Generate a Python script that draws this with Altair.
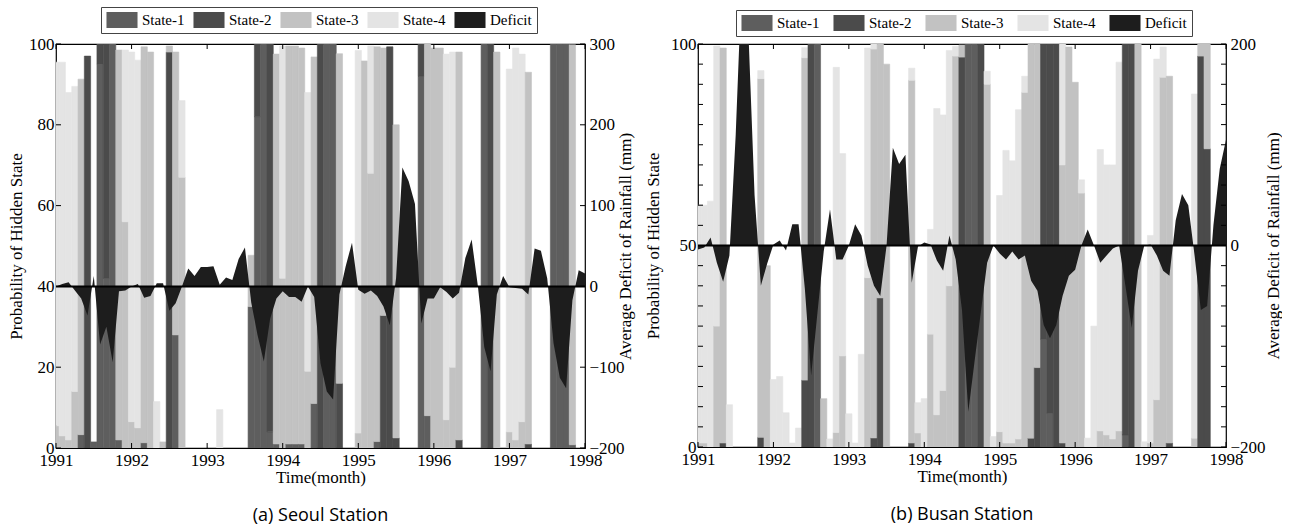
import altair as alt
import pandas as pd

SERIF = "Liberation Serif"
SANS = "Open Sans"

YEARS = [1991, 1992, 1993, 1994, 1995, 1996, 1997, 1998]
STATES = ["State-1", "State-2", "State-3", "State-4", "Deficit"]
COLORS = ["#5e5e5e", "#4b4b4b", "#c2c2c2", "#e4e4e4", "#1d1d1d"]

# ---------------- Seoul (monthly bars, Jan 1991 .. Dec 1997) ----------------
seoul_s1 = [0, 0, 0, 0, 3.3, 0, 1.5, 95, 42, 100, 2, 0,
            0, 0, 1.3, 0, 0, 0, 0, 28, 0, 0, 0, 0,
            0, 0, 0, 0, 0, 0, 0, 35, 82, 100, 4, 1,
            0, 1, 1, 1, 0, 11, 0, 100, 100, 0, 0, 0,
            0, 0, 0, 1.6, 0, 0, 0, 0, 0, 0, 92, 8,
            0, 0, 0, 0, 0, 0, 0, 0, 100, 0, 0, 0,
            0, 0, 0, 0, 0, 0, 0, 100, 100, 100, 0.8, 0]
seoul_s2 = [0, 0, 0, 0, 0, 97, 0, 5, 58, 0, 0, 0,
            0, 0, 0, 0, 0, 0, 98, 0, 0, 0, 0, 0,
            0, 0, 0, 0, 0, 0, 0, 0, 18, 0, 96, 0,
            0, 0, 0, 0, 0, 0, 100, 0, 0, 16, 0, 0,
            0, 0, 0, 0, 32.8, 99.3, 2.5, 0, 0, 0, 8, 0,
            0, 0, 0, 0, 2, 0, 0, 0, 0, 100, 0, 0,
            0, 0, 0, 1, 0, 0, 0, 0, 0, 0, 0, 0]
seoul_s3 = [5.5, 3, 2, 14, 88, 0, 0, 0, 0, 0, 96.5, 56,
            6.5, 5, 98, 98, 0, 1.5, 1.5, 70, 67, 0, 0, 0,
            0, 0, 0, 0, 0, 0, 0, 12.7, 0, 0, 0, 96.5,
            42, 98.5, 98.5, 98, 19, 85.8, 0, 0, 0, 81.6, 0, 0,
            3.7, 95.8, 68, 97.7, 66.2, 0, 77.5, 0, 0, 0, 0, 92,
            99, 99, 7, 20, 96, 0, 0, 0, 0, 0, 98, 0,
            4, 2, 6.5, 92, 0, 0, 0, 0, 0, 0, 99, 0]
seoul_s4 = [90, 92.5, 86, 75.5, 0, 0, 0, 0, 0, 0, 0, 42.5,
            91.5, 91, 0, 0, 11.5, 0, 0, 0, 19, 0, 0, 0,
            0, 0, 9.5, 0, 0, 0, 0, 0, 0, 0, 0, 0,
            57.5, 0, 0, 0, 69, 0, 0, 0, 0, 0, 0, 0,
            94.7, 0, 31.5, 0, 0, 0, 0, 0, 0, 0, 0, 0,
            0, 0, 90.5, 78, 0, 0, 0, 0, 0, 0, 0, 0,
            89.8, 97, 91, 0, 0, 0, 0, 0, 0, 0, 0, 0]
seoul_deficit = [0, 3, 5, -5, -15, -36, 13, -72, -50, -94, -6, -5,
                 0, 3, -14, -12, 4, 4, -30, -21, 0, 22, 13, 24,
                 24, 25, 2, 11, 8, 34, 48, -20, -60, -93, -40, -15,
                 -6, -13, -13, -19, 0, -13, -95, -130, -140, -10, 25, 54,
                 -4, -9, -5, -12, -25, -48, 10, 147, 130, 102, -46, -15,
                 -15, -1, -7, -15, -8, 35, 58, 0, -75, -105, -10, 13,
                 -1, -2, -3, -10, 47, 44, 10, -70, -113, -126, -17, 20, 16]

# ---------------- Busan ----------------
busan_s1 = [0, 0, 0, 0, 0, 0, 0, 0, 0, 0, 0, 0,
            0, 0, 0, 0, 0, 0, 0, 100, 0, 0, 0, 0,
            0, 0, 0, 0, 0, 0, 0, 0, 0, 0, 0, 0,
            0, 0, 0, 0, 0, 0, 0, 100, 100, 0, 0, 0,
            0, 0, 0, 0, 0, 0, 0, 26.75, 8.4, 0, 0, 0,
            0, 0, 0, 0, 0, 0, 0, 0, 3, 0, 0, 0,
            0, 0, 0, 0, 0, 0, 0, 0, 0, 0, 0, 0]
busan_s2 = [0, 0, 0, 0, 1, 0, 0, 0, 0, 0, 2.4, 0,
            0, 0, 0, 0, 0, 16.6, 100, 0, 0, 0, 0, 0,
            0, 0, 0, 0, 2.25, 37, 0, 0, 0, 0, 1, 0,
            0, 0, 0, 0, 0, 0, 96.75, 0, 0, 100, 0, 0,
            0, 0, 0, 0, 0, 2.2, 19.7, 73.25, 91.6, 100, 1, 0,
            0, 0, 0, 0, 0, 0, 0, 0, 97, 100, 0, 0,
            0, 0, 0, 1, 0, 0, 0, 0, 97, 74, 0, 0]
busan_s3 = [1, 1, 0, 30, 98, 0, 0, 0, 0, 0, 89, 45,
            0, 0, 0, 0, 0, 80, 0, 0, 12, 0, 3.6, 22.6,
            0, 0, 0, 42, 96.5, 63, 95, 0, 0, 0, 90, 3.5,
            0, 28, 8, 14, 40, 97, 3, 0, 0, 0, 90, 0,
            3.8, 1, 1, 2, 88, 97.8, 80.3, 0, 0, 0, 69, 99.25,
            90.5, 63, 0, 0, 4, 3, 2, 4, 0, 0, 100, 0,
            1, 11.75, 91.75, 91, 0, 0, 0, 2.2, 3, 26, 0, 0]
busan_s4 = [59, 59, 61, 69.5, 0, 10.5, 0, 0, 0, 0, 2, 0,
            16.75, 17.5, 8.5, 1, 4.7, 2.5, 0, 0, 0, 2, 90.6, 50.2,
            8.25, 1, 23, 57, 1.25, 0, 0, 0, 0, 0, 3, 7.5,
            12, 26, 76, 68.4, 58.4, 2.4, 0, 0, 0, 0, 3.25, 2.6,
            58.6, 72.6, 70, 81.7, 4, 0, 0, 0, 0, 0, 30, 0,
            0, 3.3, 2.2, 30, 69.8, 67, 68, 91.5, 0, 0, 0, 1.3,
            51.5, 84.5, 7.5, 0, 0, 0, 0, 85.4, 0, 0, 0, 0]
busan_deficit = [-4, -2, 8, -17, -36, -10, 110, 270, 215, 50, -40, -18,
                 1, 5, -5, 21, 21, -43, -129, -67, -6, 36, -14, -14,
                 0, 21, 10, -20, -40, -50, 0, 97, 81, 90, -37, -1,
                 3, 1, -15, -25, 10, -14, -64, -165, -115, -66, -17, 0,
                 -8, -14, -6, -14, -10, -35, -45, -79, -92, -79, -50, -30,
                 -24, 0, 16, 0, -17, -10, -3, 0, -40, -82, -25, 0,
                 1, -10, -25, -30, 25, 51, 40, -10, -64, -60, 20, 76, 105]

# axis tick specifications
seoul_left_labels = [0, 20, 40, 60, 80, 100]
seoul_right_labels = [-200, -100, 0, 100, 200, 300]
busan_left_labels = [0, 50, 100]
busan_left_ticks = list(range(0, 101, 5))
busan_right_labels = [-200, 0, 200]
busan_right_ticks = list(range(-200, 201, 20))


def panel(s1, s2, s3, s4, deficit, W, H, left_labels, left_ticks,
          right_dom, right_labels, right_ticks, lx, ly, colpad, ltp, rtp, caption):
    rows = []
    for i in range(len(s1)):
        base = 0.0
        for name, arr in zip(STATES[:4], (s1, s2, s3, s4)):
            v = arr[i]
            if v > 0:
                rows.append({"x0": 1991 + (i - 0.5) / 12, "x1": 1991 + (i + 0.5) / 12,
                             "y0": base, "y1": base + v, "state": name})
                base += v
    bars_df = pd.DataFrame(rows)
    def_df = pd.DataFrame({"t": [1991 + i / 12 for i in range(len(deficit))],
                           "d": deficit})

    xs = alt.Scale(domain=[1991, 1998], nice=False, zero=False)
    ps = alt.Scale(domain=[0, 100], nice=False, zero=False)
    ms = alt.Scale(domain=right_dom, nice=False, zero=False)
    cs = alt.Scale(domain=STATES, range=COLORS)

    x_axis = alt.Axis(values=YEARS, format="d", labelFlush=False,
                      title="Time(month)", titlePadding=1, labelPadding=4)
    l_axis = alt.Axis(orient="left", values=left_labels,
                      title="Probability of Hidden State", titlePadding=ltp)
    r_axis = alt.Axis(orient="right", values=right_labels,
                      title="Average Deficit of Rainfall (mm)",
                      titleAngle=270, titlePadding=rtp, labelPadding=4)

    legend = alt.Legend(orient="none", legendX=lx, legendY=ly, direction="horizontal",
                        title=None, symbolType="M-1.94,-1H1.94V1H-1.94Z", symbolSize=256,
                        symbolStrokeWidth=0, symbolOpacity=1, symbolOffset=8,
                        labelFont=SERIF, labelFontSize=15, labelColor="black",
                        strokeColor="#444", fillColor="white", padding=5,
                        columnPadding=colpad, labelOffset=12, labelLimit=200)

    bars = alt.Chart(bars_df).mark_bar(clip=True, strokeWidth=0.6).encode(
        x=alt.X("x0:Q", scale=xs, axis=x_axis),
        x2="x1:Q",
        y=alt.Y("y0:Q", scale=ps, axis=l_axis),
        y2="y1:Q",
        color=alt.Color("state:N", scale=cs, legend=legend),
        stroke=alt.Stroke("state:N", scale=alt.Scale(domain=STATES, range=COLORS), legend=None),
    )
    years_df = pd.DataFrame({"v": YEARS})
    bottom_ticks = alt.Chart(years_df).mark_rule(color="black").encode(
        x=alt.X("v:Q", scale=xs, axis=x_axis), y=alt.value(H), y2=alt.value(H - 5))
    top_ticks = alt.Chart(years_df).mark_rule(color="black").encode(
        x=alt.X("v:Q", scale=xs, axis=x_axis), y=alt.value(0), y2=alt.value(5))
    lt_ticks = alt.Chart(pd.DataFrame({"v": left_ticks})).mark_rule(color="black").encode(
        y=alt.Y("v:Q", scale=ps, axis=l_axis), x=alt.value(0), x2=alt.value(5))

    left_layer = alt.layer(bars, bottom_ticks, top_ticks, lt_ticks)

    area = alt.Chart(def_df).mark_area(clip=True, opacity=1).encode(
        x=alt.X("t:Q", scale=xs, axis=x_axis),
        y=alt.Y("d:Q", scale=ms, axis=r_axis),
        y2=alt.datum(0),
        color=alt.datum("Deficit"),
    )
    zero = alt.Chart(pd.DataFrame({"z": [0]})).mark_rule(color="black", strokeWidth=2).encode(
        y=alt.Y("z:Q", scale=ms, axis=r_axis))
    rt_ticks = alt.Chart(pd.DataFrame({"v": right_ticks})).mark_rule(color="black").encode(
        y=alt.Y("v:Q", scale=ms, axis=r_axis), x=alt.value(W - 5), x2=alt.value(W))
    right_layer = alt.layer(area, zero, rt_ticks)

    return alt.layer(left_layer, right_layer).resolve_scale(y="independent").properties(
        width=W, height=H,
        title=alt.TitleParams(caption, orient="bottom", anchor="middle", font=SANS,
                              fontSize=18, fontWeight="normal", color="black", offset=22))


pa = panel(seoul_s1, seoul_s2, seoul_s3, seoul_s4, seoul_deficit, 529, 404,
           seoul_left_labels, seoul_left_labels, [-200, 300], seoul_right_labels,
           seoul_right_labels, 45, -37, 8, 3, 10, "(a) Seoul Station")
pb = panel(busan_s1, busan_s2, busan_s3, busan_s4, busan_deficit, 528, 403,
           busan_left_labels, busan_left_ticks, [-200, 200], busan_right_labels,
           busan_right_ticks, 38, -34, 13, 8, 17, "(b) Busan Station")

chart = alt.hconcat(pa, pb, spacing=9).resolve_scale(
    color="independent", stroke="independent"
).properties(
    padding={"left": 6, "top": 5, "right": 0, "bottom": 2},
    background="white",
).configure_view(
    stroke="black", strokeWidth=1.2
).configure_axis(
    labelFont=SERIF, labelFontSize=17, labelColor="black",
    titleFont=SERIF, titleFontSize=17, titleFontWeight="normal", titleColor="black",
    tickSize=0, domain=False, grid=False, labelOverlap=False,
)

chart.save("out.html", embed_options={"renderer": "svg", "actions": False})
